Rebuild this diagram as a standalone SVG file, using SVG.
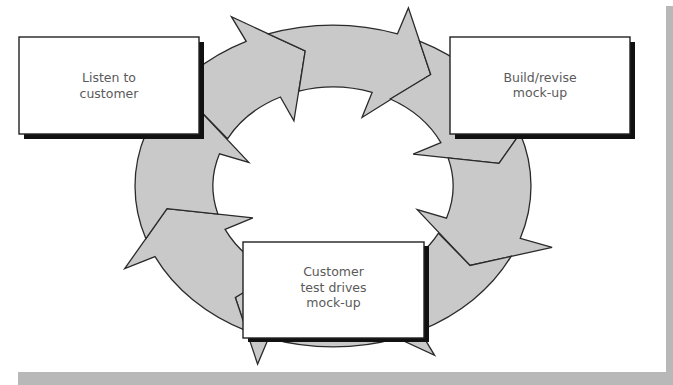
<svg xmlns="http://www.w3.org/2000/svg" width="673" height="385" viewBox="0 0 673 385">
<style>
.seg{fill:#c9c9c9;stroke:#2a2a2a;stroke-width:1.3;stroke-linejoin:miter}
.box{fill:#ffffff;stroke:#222;stroke-width:1.4}
.shadow{fill:#111}
.lbl{font-family:"DejaVu Sans","Liberation Sans",sans-serif;font-size:12.5px;fill:#5a5a5a;text-anchor:middle}
.frame{fill:#b8b8b8}
</style>
<rect width="673" height="385" fill="#ffffff"/>
<rect class="frame" x="18" y="372" width="655" height="13"/>
<rect class="frame" x="666" y="6" width="7" height="379"/>
<g id="connectors">
<path class="seg" d="M154.9,115.7 A198,161 0 0 1 246.2,41.3 L231.4,16.7 L305.2,51.0 L293.9,120.8 L280.4,97.0 A120,99 0 0 0 227.5,138.8 L196.0,106.5 Z"/>
<path class="seg" d="M268.2,33.9 A198,161 0 0 1 397.5,33.8 L408.4,7.9 L430.7,74.5 L362.0,117.5 L372.1,92.4 A120,99 0 0 0 298.9,91.1 L305.2,51.0 Z"/>
<path class="seg" d="M419.5,41.2 A198,161 0 0 1 511.0,115.4 L541.3,103.4 L499.0,163.4 L413.1,154.2 L440.9,142.6 A120,99 0 0 0 390.3,99.0 L430.7,74.5 Z"/>
<path class="seg" d="M520.1,133.3 A198,161 0 0 1 520.2,238.4 L552.1,247.3 L470.0,265.5 L417.2,209.6 L446.5,218.2 A120,99 0 0 0 448.1,157.9 L499.0,163.4 Z"/>
<path class="seg" d="M511.1,256.3 A198,161 0 0 1 419.8,330.7 L434.6,355.3 L360.8,321.0 L372.1,251.2 L385.6,275.0 A120,99 0 0 0 438.5,233.2 L470.0,265.5 Z"/>
<path class="seg" d="M397.8,338.1 A198,161 0 0 1 268.5,338.2 L257.6,364.1 L235.3,297.5 L304.0,254.5 L293.9,279.6 A120,99 0 0 0 367.1,280.9 L360.8,321.0 Z"/>
<path class="seg" d="M246.5,330.8 A198,161 0 0 1 155.0,256.6 L124.7,268.6 L167.0,208.6 L252.9,217.8 L225.1,229.4 A120,99 0 0 0 275.7,273.0 L235.3,297.5 Z"/>
<path class="seg" d="M145.9,238.7 A198,161 0 0 1 145.8,133.6 L113.9,124.7 L196.0,106.5 L248.8,162.4 L219.5,153.8 A120,99 0 0 0 217.9,214.1 L167.0,208.6 Z"/>
</g>
<g id="listen">
<rect class="shadow" x="24" y="42" width="180" height="97"/>
<rect class="box" x="19" y="37" width="180" height="97"/>
<text class="lbl" x="109" y="82">Listen to</text>
<text class="lbl" x="109" y="98">customer</text>
</g>
<g id="build">
<rect class="shadow" x="455" y="42" width="180" height="97"/>
<rect class="box" x="450" y="37" width="180" height="97"/>
<text class="lbl" x="540" y="82">Build/revise</text>
<text class="lbl" x="540" y="97">mock-up</text>
</g>
<g id="test">
<rect class="shadow" x="248" y="246" width="181" height="96"/>
<rect class="box" x="243" y="242" width="181" height="96"/>
<text class="lbl" x="333.5" y="276">Customer</text>
<text class="lbl" x="333.5" y="292">test drives</text>
<text class="lbl" x="333.5" y="307">mock-up</text>
</g>
</svg>
